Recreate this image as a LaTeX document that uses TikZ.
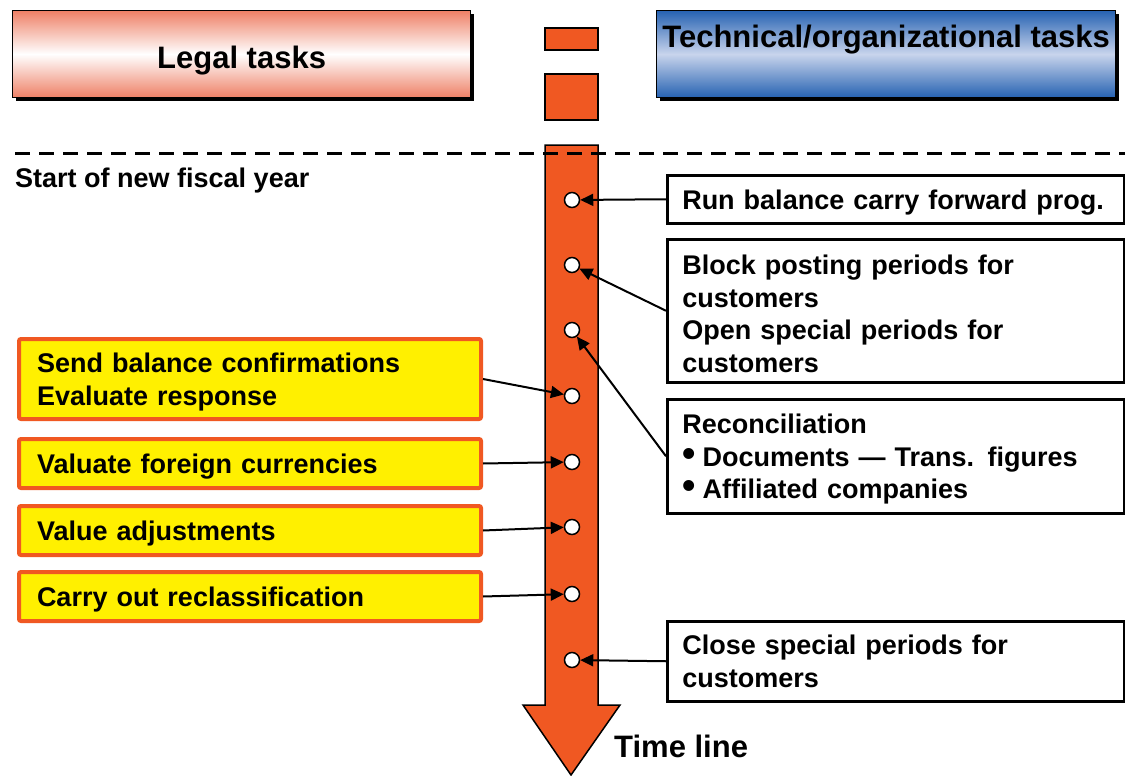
\documentclass[tikz,border=0pt]{standalone}
\usepackage{fontspec}
\setmainfont{Liberation Sans}
\usetikzlibrary{arrows.meta}
\definecolor{tlorange}{RGB}{240,88,34}
\definecolor{tlyellow}{RGB}{255,240,0}
\definecolor{salmon}{RGB}{238,128,102}
\definecolor{hblue}{RGB}{38,98,178}
\definecolor{lblue}{RGB}{200,212,236}
\newcommand{\firststrut}{\rule{0pt}{26pt}}
\newcommand{\bigbul}{\smash{\fontsize{38}{38}\selectfont •}\hspace{7pt}}
\tikzset{
  headbox/.style={draw=black, line width=1.2pt, anchor=north west, minimum width=458pt, inner xsep=0pt, inner ysep=8pt, font=\bfseries\fontsize{31}{36}\selectfont},
  rbox/.style={draw=black, line width=2.5pt, fill=white, anchor=north west, inner xsep=15pt, inner ysep=0pt, text width=427pt, align=left},
  lbox/.style={draw=tlorange, line width=4pt, fill=tlyellow, rounded corners=2pt, anchor=north west, inner xsep=18pt, inner ysep=0pt, text width=426pt, align=left},
  tdot/.style={circle, draw=black, line width=1.5pt, fill=white, minimum size=15pt, inner sep=0pt},
  conn/.style={line width=2pt, -{Triangle[length=13pt,width=12pt]}},
  plain/.style={inner sep=0pt}
}
\begin{document}
\begin{tikzpicture}[x=1pt,y=-1pt, font=\bfseries\fontsize{27}{32.5}\selectfont]
\useasboundingbox (0,0) rectangle (1125,776);
% heading boxes with shadows
\fill[black] (16,14) rectangle (474,101);
\node[headbox, top color=salmon, bottom color=salmon, middle color=white, text height=50pt, text depth=21pt] (legal) at (12,10) {Legal tasks};
\fill[black] (660,14) rectangle (1119,101);
\node[headbox, top color=hblue, bottom color=hblue, middle color=lblue, minimum width=459pt, text height=29pt, text depth=42pt] (tech) at (656,10) {Technical/organizational tasks};
% small orange rectangles
\draw[fill=tlorange, line width=1.2pt] (545,28) rectangle (598,50);
\draw[fill=tlorange, line width=1.2pt] (545,74) rectangle (598,120);
% time line arrow
\draw[fill=tlorange, line width=1.5pt, line join=miter] (545,145) -- (598,145) -- (598,705) -- (620,705) -- (571,775) -- (523,705) -- (545,705) -- cycle;
% dashed line
\draw[line width=3pt, dash pattern=on 15pt off 9pt] (15,153) -- (1125,153);
\node[plain, anchor=west] (start) at (15,181) {Start of new fiscal year};
\node[plain, anchor=west, font=\bfseries\fontsize{31}{36}\selectfont] (tline) at (614,746) {Time line};
% dots
\foreach \i/\y in {1/200,2/265,3/330,4/396,5/462,6/527,7/594,8/660}
  \node[tdot] (c\i) at (572,\y) {};
% right boxes
\node[rbox, minimum height=48pt] (run) at (666,174) {\firststrut Run balance carry forward prog.};
\node[rbox, minimum height=143pt] (block) at (666,238) {\firststrut Block posting periods for\\customers\\Open special periods for\\customers};
\node[rbox, minimum height=114pt] (recon) at (666,398) {\firststrut Reconciliation\\\bigbul Documents — Trans. figures\\\bigbul Affiliated companies};
\node[rbox, minimum height=80pt] (close) at (666,620) {Close special periods for\\customers};
% left boxes
\node[lbox, minimum height=80pt] (send) at (17,337) {\firststrut Send balance confirmations\\Evaluate response};
\node[lbox, minimum height=49pt] (valuate) at (17,437) {\firststrut Valuate foreign currencies};
\node[lbox, minimum height=49pt] (valadj) at (17,504) {\firststrut Value adjustments};
\node[lbox, minimum height=49pt] (reclass) at (17,570) {\firststrut Carry out reclassification};
% connectors
\draw[conn] (run.west) -- (c1);
\draw[conn] (block.west) -- (c2);
\draw[conn] (recon.west) -- (c3);
\draw[conn] (send.east) -- (c4);
\draw[conn] (valuate.east) -- (c5);
\draw[conn] (valadj.east) -- (c6);
\draw[conn] (reclass.east) -- (c7);
\draw[conn] (close.west) -- (c8);
\end{tikzpicture}
\end{document}
